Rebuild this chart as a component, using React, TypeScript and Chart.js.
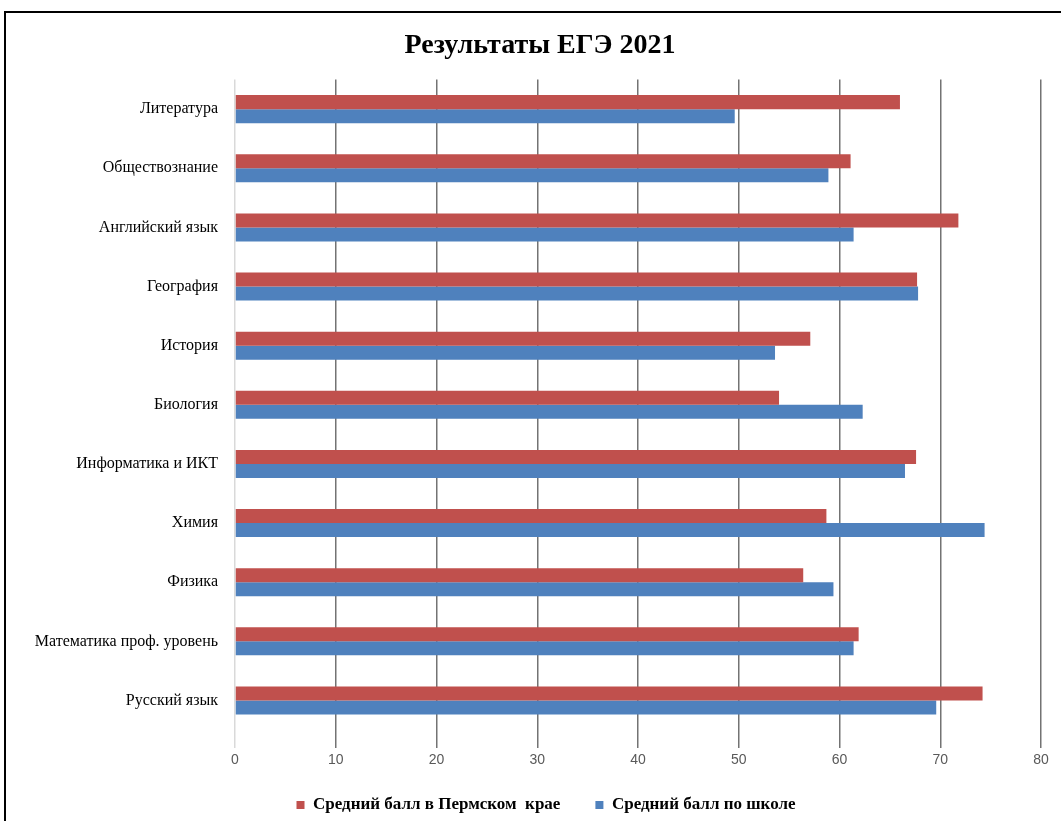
import React, { useEffect, useRef } from "react";
import { Chart, registerables } from "chart.js";

Chart.register(...registerables);

const titleText = "Результаты ЕГЭ 2021";
const categories = [
  "Литература",
  "Обществознание",
  "Английский язык",
  "География",
  "История",
  "Биология",
  "Информатика и ИКТ",
  "Химия",
  "Физика",
  "Математика проф. уровень",
  "Русский язык",
];
const regionLabel = "Средний балл в Пермском  крае";
const schoolLabel = "Средний балл по школе";
const regionScores = [66.0, 61.1, 71.8, 67.7, 57.1, 54.0, 67.6, 58.7, 56.4, 61.9, 74.2];
const schoolScores = [49.6, 58.9, 61.4, 67.8, 53.6, 62.3, 66.5, 74.4, 59.4, 61.4, 69.6];
const xMin = 0;
const xMax = 80;
const xStep = 10;

const CANVAS_W = 1068;
const CANVAS_H = 821;
const AREA_LEFT = 229;
const AREA_BOTTOM = 717;
const LEGEND_FONT = 17;
const LEGEND_PAD = 35;
const LEGEND_CENTER_Y = 792;

const recenterBlocks = {
  id: "recenterBlocks",
  afterLayout(chart: any) {
    const t = chart.titleBlock;
    if (t) {
      t.left = 0;
      t.right = CANVAS_W;
      t.width = CANVAS_W;
    }
    const l = chart.legend;
    if (l) {
      l.left = 0;
      l.right = 1080;
      l.width = 1080;
      l.top = LEGEND_CENTER_Y - LEGEND_PAD - LEGEND_FONT / 2;
      l.bottom = l.top + l.height;
    }
  },
};

export default function App() {
  const ref = useRef<HTMLCanvasElement | null>(null);

  useEffect(() => {
    if (!ref.current) return;
    const chart = new Chart(ref.current, {
      type: "bar",
      data: {
        labels: categories,
        datasets: [
          {
            label: regionLabel,
            data: regionScores,
            backgroundColor: "#C0504D",
            borderWidth: 0,
            barPercentage: 1,
            categoryPercentage: 0.475,
          },
          {
            label: schoolLabel,
            data: schoolScores,
            backgroundColor: "#4F81BD",
            borderWidth: 0,
            barPercentage: 1,
            categoryPercentage: 0.475,
          },
        ],
      },
      plugins: [recenterBlocks],
      options: {
        indexAxis: "y",
        responsive: false,
        animation: false,
        devicePixelRatio: 1,
        layout: { padding: { top: 0, left: 0, right: 33, bottom: 0 } },
        plugins: {
          title: {
            display: true,
            text: titleText,
            color: "#000",
            font: { family: "'Liberation Serif', 'Times New Roman', serif", size: 28, weight: "bold" },
            padding: { top: 16, bottom: 17 },
          },
          legend: {
            display: true,
            position: "bottom",
            labels: {
              boxWidth: 8,
              boxHeight: 8,
              padding: LEGEND_PAD,
              color: "#000",
              font: { family: "'Liberation Serif', 'Times New Roman', serif", size: LEGEND_FONT, weight: "bold" },
            },
          },
          tooltip: { enabled: false },
        },
        scales: {
          x: {
            type: "linear",
            min: xMin,
            max: xMax,
            position: "bottom",
            ticks: {
              stepSize: xStep,
              color: "#595959",
              padding: 4,
              font: { family: "'Liberation Sans Narrow', 'Liberation Sans', sans-serif", size: 14 },
            },
            grid: {
              display: true,
              drawTicks: true,
              tickLength: 18,
              lineWidth: 1.5,
              color: (ctx: any) => (ctx.tick && ctx.tick.value === 0 ? "#d9d9d9" : "#737373"),
              tickColor: (ctx: any) => (ctx.tick && ctx.tick.value === 0 ? "#d9d9d9" : "#737373"),
            },
            border: { display: false },
            afterFit: (scale: any) => {
              const lh = scale.chart.legend ? scale.chart.legend.height : 60;
              scale.height = CANVAS_H - AREA_BOTTOM - lh;
            },
          },
          y: {
            type: "category",
            ticks: {
              color: "#000",
              padding: 17,
              font: { family: "'Liberation Serif', 'Times New Roman', serif", size: 16 },
            },
            grid: { display: false, drawTicks: false },
            border: { display: false },
            afterFit: (scale: any) => {
              scale.width = AREA_LEFT;
            },
          },
        },
      },
    });
    return () => chart.destroy();
  }, []);

  return (
    <div
      style={{
        position: "fixed",
        left: 0,
        top: 0,
        width: 1061,
        height: 821,
        overflow: "hidden",
        background: "#fff",
      }}
    >
      <div
        style={{
          position: "absolute",
          left: 4,
          top: 11,
          width: 1100,
          height: 900,
          border: "2px solid #000",
          boxSizing: "content-box",
        }}
      >
        <canvas ref={ref} width={CANVAS_W} height={CANVAS_H} style={{ display: "block" }} />
      </div>
    </div>
  );
}
